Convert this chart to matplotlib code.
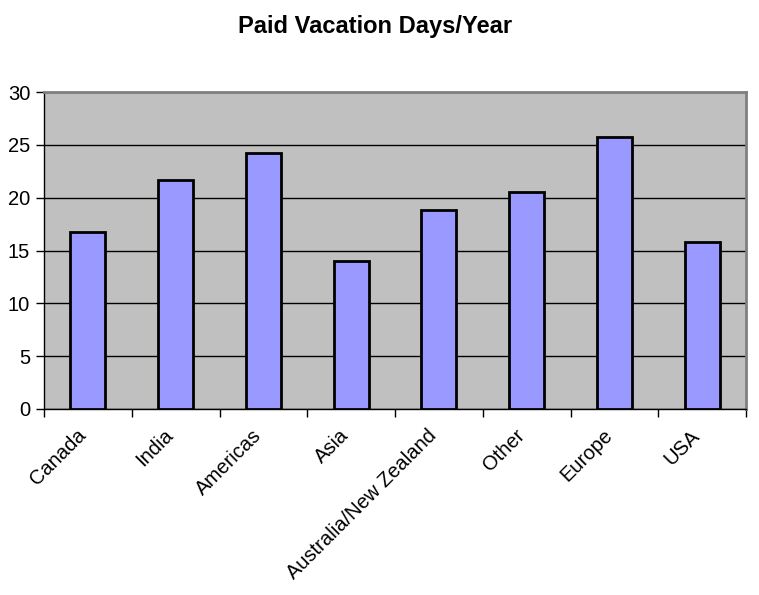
import matplotlib
matplotlib.use('Agg')
import matplotlib.pyplot as plt
import matplotlib.transforms as mtransforms
import numpy as np

# data
regions = ['Canada', 'India', 'Americas', 'Asia', 'Australia/New Zealand',
           'Other', 'Europe', 'USA']
days = [16.75, 21.7, 24.25, 14.0, 18.85, 20.55, 25.75, 15.8]
yticks = [0, 5, 10, 15, 20, 25, 30]

plt.rcParams['font.family'] = ['Liberation Sans', 'DejaVu Sans']

fig = plt.figure(figsize=(7.59, 5.95), dpi=100)
ax = fig.add_axes([44 / 759, 1 - 409 / 595, 702 / 759, 317 / 595])
ax.set_facecolor('#c0c0c0')

x = np.arange(len(regions))
ax.bar(x, days, width=0.4, color='#9999ff', edgecolor='black', linewidth=2, zorder=3)

ax.set_xlim(-0.5, len(regions) - 0.5)
ax.set_ylim(0, 30)
ax.set_yticks(yticks)
ax.yaxis.grid(True, color='black', linewidth=1, zorder=1)
ax.set_axisbelow(True)

# category ticks sit between the bars
ax.set_xticks(np.arange(len(regions) + 1) - 0.5)
ax.set_xticklabels([])
ax.set_xticks(x, minor=True)
ax.set_xticklabels(regions, minor=True, rotation=45, ha='right', va='center',
                   rotation_mode='anchor', fontsize=14.5)
ax.tick_params(axis='x', which='minor', length=0, pad=17)
ax.tick_params(axis='x', which='major', direction='out', length=6, width=1)
ax.tick_params(axis='y', direction='out', length=6, width=1, labelsize=14.5, pad=4)

# nudge the slanted labels a little to the left
shift = mtransforms.ScaledTranslation(-5 / 100, 0, fig.dpi_scale_trans)
for lbl in ax.get_xticklabels(minor=True):
    lbl.set_transform(lbl.get_transform() + shift)

for side in ['top', 'right']:
    ax.spines[side].set_color('#808080')
    ax.spines[side].set_linewidth(2)
for side in ['left', 'bottom']:
    ax.spines[side].set_color('black')
    ax.spines[side].set_linewidth(1)

fig.text(0.494, 1 - 26 / 595, 'Paid Vacation Days/Year', ha='center', va='center',
         fontsize=17, fontweight='bold')

plt.savefig('out.png', dpi=100)
